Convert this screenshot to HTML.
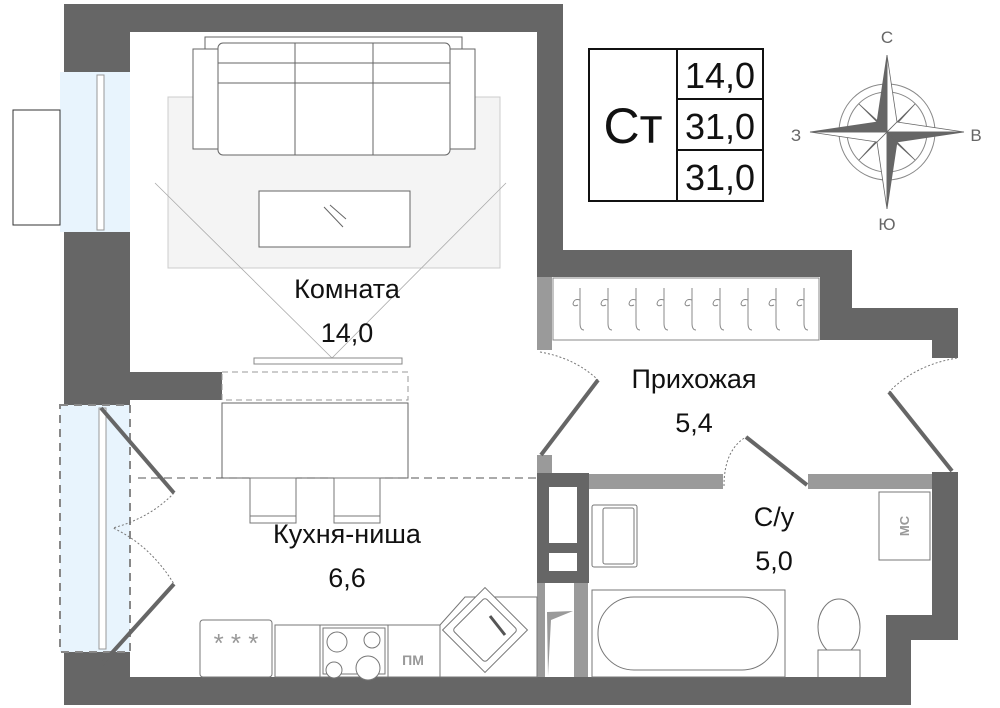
<!DOCTYPE html>
<html><head><meta charset="utf-8"><style>
html,body{margin:0;padding:0;background:#fff;width:1000px;height:708px;overflow:hidden}
svg{display:block}
text{font-family:"Liberation Sans",sans-serif;fill:#111}
</style></head><body>
<svg width="1000" height="708" viewBox="0 0 1000 708" xmlns="http://www.w3.org/2000/svg">
<rect x="168" y="97" width="332" height="171" fill="#f4f4f4" stroke="#ccc"/>
<path d="M155 183 L332 358 M506 183 L332 358" stroke="#aaa" stroke-width="0.8" fill="none"/>
<g fill="#fff" stroke="#666" stroke-width="1">
<rect x="205" y="37" width="257" height="12"/>
<rect x="193" y="49" width="282" height="100"/>
<rect x="218" y="43" width="232" height="112" rx="5"/>
<path d="M295 43 V155 M373 43 V155 M218 63 H450 M218 83 H450"/>
</g>
<rect x="259" y="191" width="151" height="56" fill="#fff" stroke="#666"/>
<path d="M324 207 L343 227 M330 205 L346 219" stroke="#666"/>
<path d="M254 358 H402 V364 H254 Z" fill="#fff" stroke="#888"/>
<g fill="#666">
<rect x="64" y="4" width="66" height="68"/>
<rect x="64" y="232" width="66" height="173"/>
<rect x="64" y="652" width="66" height="53"/>
<rect x="64" y="4" width="499" height="28"/>
<rect x="537" y="4" width="26" height="246"/>
<rect x="130" y="372" width="92" height="28"/>
<path d="M537 250 H852 V308 H958 V358 H932 V340 H820 V277 H537 Z"/>
<path d="M932 472 H958 V640 H911 V705 H64 V677 H886 V615 H932 Z"/>
<rect x="537" y="473" width="52" height="110"/>
</g>
<rect x="549" y="487" width="28" height="56" fill="#fff"/>
<rect x="549" y="553" width="28" height="18" fill="#fff"/>
<g fill="#9a9a9a">
<rect x="537" y="277" width="15" height="73"/>
<rect x="537" y="455" width="15" height="18"/>
<rect x="589" y="474" width="134" height="15"/>
<rect x="808" y="474" width="124" height="15"/>
<rect x="537" y="583" width="8" height="94"/>
<rect x="574" y="583" width="14" height="94"/>
<path d="M547 612 L573 611 L551 620 L548 676 Z"/>
</g>
<rect x="553" y="278" width="266" height="62" fill="#fff" stroke="#888"/>
<g stroke="#888" fill="none" stroke-width="1">
<path d="M580 288 v35 q0 7 4 7 M580 300 q-6 -2 -7 4 q1 3 5 1"/>
<path d="M608 288 v35 q0 7 4 7 M608 300 q-6 -2 -7 4 q1 3 5 1"/>
<path d="M636 288 v35 q0 7 4 7 M636 300 q-6 -2 -7 4 q1 3 5 1"/>
<path d="M664 288 v35 q0 7 4 7 M664 300 q-6 -2 -7 4 q1 3 5 1"/>
<path d="M692 288 v35 q0 7 4 7 M692 300 q-6 -2 -7 4 q1 3 5 1"/>
<path d="M720 288 v35 q0 7 4 7 M720 300 q-6 -2 -7 4 q1 3 5 1"/>
<path d="M748 288 v35 q0 7 4 7 M748 300 q-6 -2 -7 4 q1 3 5 1"/>
<path d="M776 288 v35 q0 7 4 7 M776 300 q-6 -2 -7 4 q1 3 5 1"/>
<path d="M804 288 v35 q0 7 4 7 M804 300 q-6 -2 -7 4 q1 3 5 1"/>
</g>
<rect x="60" y="72" width="70" height="160" fill="#e8f4fd"/>
<rect x="97" y="75" width="7" height="155" fill="#fff" stroke="#999"/>
<rect x="13" y="110" width="47" height="115" fill="#fff" stroke="#333"/>
<rect x="60" y="405" width="70" height="247" fill="#e8f4fd" stroke="#888" stroke-dasharray="8,6" stroke-width="2"/>
<rect x="99" y="408" width="7" height="241" fill="#fff" stroke="#999"/>
<g stroke="#666" stroke-width="4">
<path d="M598 380 L541 455"/>
<path d="M889 392 L952 471"/>
<path d="M746 437 L807 485"/>
<path d="M101 408 L174 493"/>
<path d="M101 665 L174 584"/>
</g>
<g stroke="#777" stroke-width="1" stroke-dasharray="2,2" fill="none">
<path d="M540 352 Q575 358 598 380"/>
<path d="M957 358 Q915 365 889 392"/>
<path d="M724 486 Q724 450 746 437"/>
<path d="M174 493 Q150 518 113 528 Q150 545 174 584"/>
</g>
<rect x="222" y="372" width="186" height="28" fill="none" stroke="#999" stroke-dasharray="6,4"/>
<rect x="222" y="403" width="186" height="75" fill="#fff" stroke="#666"/>
<path d="M138 478 H537" stroke="#555" stroke-dasharray="8,5"/>
<rect x="250" y="478" width="46" height="45" fill="#fff" stroke="#777"/>
<rect x="334" y="478" width="46" height="45" fill="#fff" stroke="#777"/>
<path d="M250 516 H296 M334 516 H380" stroke="#777"/>
<g fill="#fff" stroke="#777">
<rect x="200" y="620" width="72" height="57" rx="3"/>
<rect x="275" y="625" width="45" height="52"/>
<rect x="320" y="625" width="68" height="52"/>
<rect x="323" y="628" width="62" height="46"/>
<rect x="388" y="625" width="52" height="52"/>
<path d="M440 625 L465 597 H537 V677 H440 Z"/>
<rect x="455" y="600" width="60" height="60" transform="rotate(45 485 630)"/>
<rect x="462" y="607" width="46" height="46" rx="3" transform="rotate(45 485 630)"/>
<circle cx="337" cy="642" r="10"/><circle cx="372" cy="640" r="8"/>
<circle cx="334" cy="670" r="8"/><circle cx="368" cy="668" r="12"/>
</g>
<path d="M490 616 L505 635" stroke="#555" stroke-width="3"/>
<text x="236" y="652" font-size="26" style="fill:#999" text-anchor="middle">* * *</text>
<text x="413" y="665" font-size="14" font-weight="bold" style="fill:#999" text-anchor="middle">ПМ</text>
<g fill="#fff" stroke="#777">
<rect x="592" y="505" width="45" height="62" rx="2"/>
<rect x="603" y="508" width="31" height="56" rx="2"/>
<rect x="592" y="590" width="193" height="87"/>
<rect x="598" y="597" width="180" height="73" rx="36"/>
<rect x="879" y="492" width="51" height="68"/>
<ellipse cx="839" cy="627" rx="21" ry="28"/>
<path d="M818 677 V650 H860 V677"/>
</g>
<text x="909" y="526" font-size="13" font-weight="bold" style="fill:#999" text-anchor="middle" transform="rotate(-90 909 526)">МС</text>
<text x="347" y="298" font-size="27" text-anchor="middle">Комната</text>
<text x="347" y="342" font-size="27" text-anchor="middle">14,0</text>
<text x="347" y="543" font-size="27" text-anchor="middle">Кухня-ниша</text>
<text x="347" y="587" font-size="27" text-anchor="middle">6,6</text>
<text x="694" y="388" font-size="27" text-anchor="middle">Прихожая</text>
<text x="694" y="432" font-size="27" text-anchor="middle">5,4</text>
<text x="774" y="526" font-size="27" text-anchor="middle">С/у</text>
<text x="774" y="570" font-size="27" text-anchor="middle">5,0</text>
<g fill="none" stroke="#111" stroke-width="2">
<rect x="589" y="49" width="174" height="152"/>
<path d="M677 49 V201 M677 99 H763 M677 150 H763"/>
</g>
<text x="633" y="143" font-size="50" text-anchor="middle">Ст</text>
<text x="720" y="88" font-size="36" text-anchor="middle">14,0</text>
<text x="720" y="139" font-size="36" text-anchor="middle">31,0</text>
<text x="720" y="190" font-size="36" text-anchor="middle">31,0</text>
<g transform="translate(887,132)">
<circle r="48" fill="none" stroke="#888"/>
<circle r="40" fill="none" stroke="#888"/>
<g stroke="#666" stroke-width="0.8">
<path d="M0 0 L-28 -28 L-6 -8 Z M0 0 L28 28 L6 8 Z M0 0 L28 -28 L8 -6 Z M0 0 L-28 28 L-8 6 Z" fill="#666"/>
<path d="M0 -77 L10 -10 L0 0 Z" fill="#fff"/><path d="M0 -77 L-10 -10 L0 0 Z" fill="#666"/>
<path d="M0 77 L-10 10 L0 0 Z" fill="#fff"/><path d="M0 77 L10 10 L0 0 Z" fill="#666"/>
<path d="M77 0 L10 -10 L0 0 Z" fill="#fff"/><path d="M77 0 L10 10 L0 0 Z" fill="#666"/>
<path d="M-77 0 L-10 10 L0 0 Z" fill="#fff"/><path d="M-77 0 L-10 -10 L0 0 Z" fill="#666"/>
</g>
</g>
<g font-size="17" text-anchor="middle">
<text x="887" y="43" style="fill:#666">С</text>
<text x="887" y="230" style="fill:#666">Ю</text>
<text x="796" y="141" style="fill:#666">З</text>
<text x="976" y="141" style="fill:#666">В</text>
</g>
</svg>
</body></html>
